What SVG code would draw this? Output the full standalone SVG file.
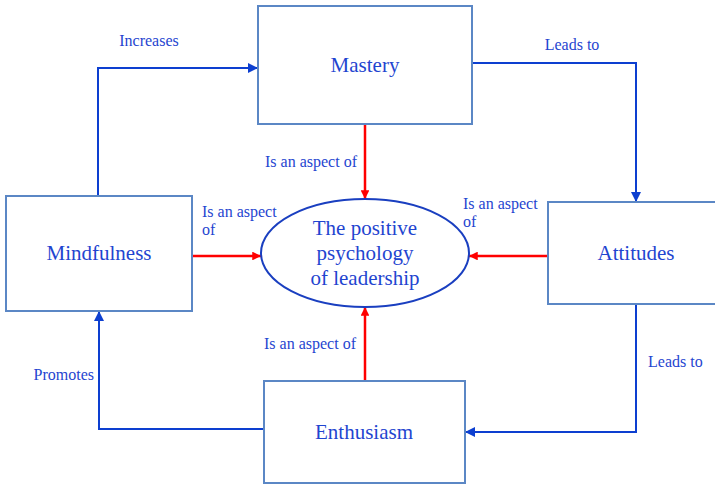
<svg xmlns="http://www.w3.org/2000/svg" width="715" height="484" viewBox="0 0 715 484">
<style>
.box{fill:#fff;stroke:#5b87c5;stroke-width:2}
.t{font-family:'Liberation Serif','Times New Roman','DejaVu Serif',serif;fill:#1f45d0;text-anchor:middle;font-size:21px}
.l{font-family:'Liberation Serif','Times New Roman','DejaVu Serif',serif;fill:#1f45d0;font-size:16px}
.c{fill:none;stroke:#0d3fd0;stroke-width:2}
.r{fill:none;stroke:#ff0000;stroke-width:2.5}
</style>
<defs>
<marker id="ab" viewBox="0 0 10 10" refX="10" refY="5" markerWidth="5" markerHeight="5" orient="auto" markerUnits="strokeWidth"><path d="M0,0L10,5L0,10z" fill="#0d3fd0"/></marker>
<marker id="ar" viewBox="0 0 10 10" refX="10" refY="5" markerWidth="3.5" markerHeight="3.5" orient="auto" markerUnits="strokeWidth"><path d="M0,0L10,5L0,10z" fill="#ff0000"/></marker>
</defs>
<rect width="715" height="484" fill="#fff"/>
<g id="connectors">
<path class="c" d="M98,196V68H258" marker-end="url(#ab)"/>
<path class="c" d="M472,63H636V202" marker-end="url(#ab)"/>
<path class="c" d="M636,304V432H465" marker-end="url(#ab)"/>
<path class="c" d="M264,429H99V311" marker-end="url(#ab)"/>
<path class="r" d="M365,124V199" marker-end="url(#ar)"/>
<path class="r" d="M192,256H261" marker-end="url(#ar)"/>
<path class="r" d="M548,256H469" marker-end="url(#ar)"/>
<path class="r" d="M365,381V307" marker-end="url(#ar)"/>
<text class="l" x="149" y="46" text-anchor="middle" font-family="Liberation Serif, serif">Increases</text>
<text class="l" x="572" y="50" text-anchor="middle">Leads to</text>
<text class="l" x="648" y="367">Leads to</text>
<text class="l" x="94" y="380" text-anchor="end">Promotes</text>
<text class="l" x="265" y="167">Is an aspect of</text>
<text class="l" x="264" y="349">Is an aspect of</text>
<text class="l" x="202" y="217">Is an aspect</text>
<text class="l" x="202" y="235">of</text>
<text class="l" x="463" y="209">Is an aspect</text>
<text class="l" x="463" y="227">of</text>
</g>
<g id="mastery"><rect class="box" x="258" y="6" width="214" height="118"/><text class="t" x="365" y="72">Mastery</text></g>
<g id="mindfulness"><rect class="box" x="6" y="196" width="186" height="115"/><text class="t" x="99" y="260">Mindfulness</text></g>
<g id="attitudes"><rect class="box" x="548" y="202" width="176" height="102"/><text class="t" x="636" y="260">Attitudes</text></g>
<g id="enthusiasm"><rect class="box" x="264" y="381" width="201" height="102"/><text class="t" x="364" y="439">Enthusiasm</text></g>
<g id="center"><ellipse cx="365" cy="253" rx="104" ry="54" fill="#fff" stroke="#1a3fc0" stroke-width="2"/>
<text class="t" x="365" y="235">The positive</text>
<text class="t" x="365" y="260">psychology</text>
<text class="t" x="365" y="285">of leadership</text></g>
</svg>
